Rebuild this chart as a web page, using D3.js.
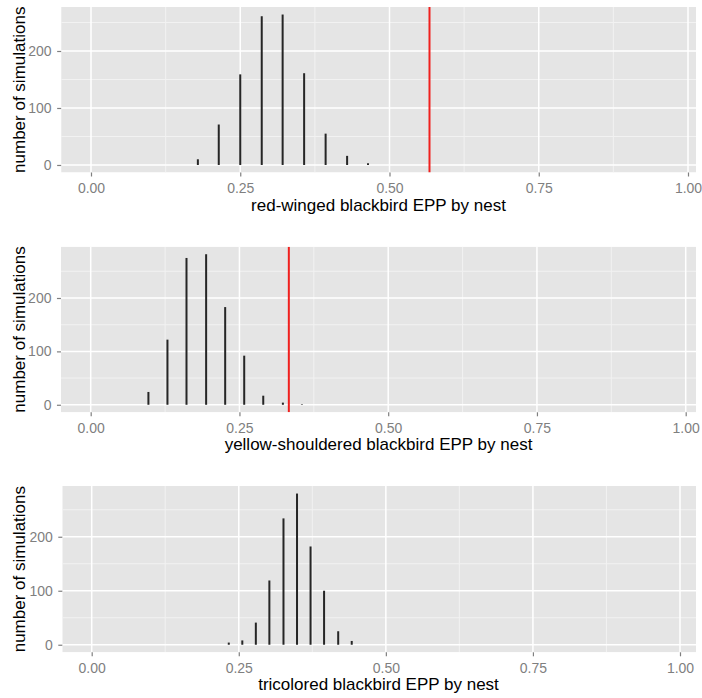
<!DOCTYPE html>
<html>
<head>
<meta charset="utf-8">
<script src="https://cdn.jsdelivr.net/npm/d3@7"></script>
<style>
  body { margin: 0; background: #fff; }
  text { font-family: "Liberation Sans", Arial, sans-serif; }
</style>
</head>
<body>
<div id="EppChart"></div>
<script>
// data: EPP proportion of each bin and number of simulations
var redwingEpp   = [0.179, 0.214, 0.250, 0.286, 0.321, 0.357, 0.393, 0.429, 0.464];
var redwingSims  = [10, 71, 159, 261, 264, 161, 55, 16, 3];
var redwingObs   = 0.567;

var yellowEpp    = [0.097, 0.129, 0.161, 0.194, 0.226, 0.258, 0.290, 0.323, 0.355];
var yellowSims   = [24, 122, 275, 282, 183, 92, 17, 4, 1];
var yellowObs    = 0.333;

var tricolorEpp  = [0.233, 0.256, 0.279, 0.302, 0.326, 0.349, 0.372, 0.395, 0.419, 0.442];
var tricolorSims = [4, 8, 41, 119, 234, 280, 182, 100, 25, 7];

var xTicks = [0, 0.25, 0.5, 0.75, 1];
var xMinor = [0.125, 0.375, 0.625, 0.875];
var yTicks = [0, 100, 200];
var yMinor = [50, 150, 250];

var titles = [
    "red-winged blackbird EPP by nest",
    "yellow-shouldered blackbird EPP by nest",
    "tricolored blackbird EPP by nest"
];

// each panel: where it sits on the page (the right side of the picture is cut off)
var panels = [
    {epp: redwingEpp,  sims: redwingSims,  obs: redwingObs,  title: titles[0], top: 7,     bottom: 172.5, zero: 91,   unit: 597},
    {epp: yellowEpp,   sims: yellowSims,   obs: yellowObs,   title: titles[1], top: 246.7, bottom: 412.3, zero: 90.7, unit: 595},
    {epp: tricolorEpp, sims: tricolorSims, obs: null,        title: titles[2], top: 486,   bottom: 652.3, zero: 91.7, unit: 588.3}
];

var clipRight = 696;

var svg = d3.select("#EppChart")
    .append("svg")
    .attr("width", 702)
    .attr("height", 698);

svg.append("rect")
    .attr("width", 702)
    .attr("height", 698)
    .attr("fill", "#fff");

panels.forEach(function(p, i) {
    // x scale with ggplot's 5% expansion around 0..1
    var x = d3.scaleLinear()
        .domain([-0.05, 1.05])
        .range([p.zero - 0.05 * p.unit, p.zero + 1.05 * p.unit]);

    var maxSims = d3.max(p.sims);
    var y = d3.scaleLinear()
        .domain([-0.05 * maxSims, 1.05 * maxSims])
        .range([p.bottom, p.top]);

    var left = x(-0.05),
        right = Math.min(x(1.05), clipRight);

    var g = svg.append("g");

    g.append("clipPath")
        .attr("id", "clip" + i)
        .append("rect")
        .attr("x", left)
        .attr("y", p.top)
        .attr("width", right - left)
        .attr("height", p.bottom - p.top);

    var plot = g.append("g").attr("clip-path", "url(#clip" + i + ")");

    // grey panel
    plot.append("rect")
        .attr("x", left)
        .attr("y", p.top)
        .attr("width", right - left)
        .attr("height", p.bottom - p.top)
        .attr("fill", "#E5E5E5");

    // minor grid
    plot.selectAll(".xminor")
        .data(xMinor)
        .enter()
        .append("line")
        .attr("x1", function(d) { return x(d); })
        .attr("x2", function(d) { return x(d); })
        .attr("y1", p.top)
        .attr("y2", p.bottom)
        .attr("stroke", "#F2F2F2")
        .attr("stroke-width", 1);
    plot.selectAll(".yminor")
        .data(yMinor.filter(function(d) { return d < y.domain()[1]; }))
        .enter()
        .append("line")
        .attr("x1", left)
        .attr("x2", right)
        .attr("y1", function(d) { return y(d); })
        .attr("y2", function(d) { return y(d); })
        .attr("stroke", "#F2F2F2")
        .attr("stroke-width", 1);

    // major grid
    plot.selectAll(".xmajor")
        .data(xTicks)
        .enter()
        .append("line")
        .attr("x1", function(d) { return x(d); })
        .attr("x2", function(d) { return x(d); })
        .attr("y1", p.top)
        .attr("y2", p.bottom)
        .attr("stroke", "#fff")
        .attr("stroke-width", 1.5);
    plot.selectAll(".ymajor")
        .data(yTicks)
        .enter()
        .append("line")
        .attr("x1", left)
        .attr("x2", right)
        .attr("y1", function(d) { return y(d); })
        .attr("y2", function(d) { return y(d); })
        .attr("stroke", "#fff")
        .attr("stroke-width", 1.5);

    // histogram bars (very thin bins)
    var bins = p.epp.map(function(e, k) { return {epp: e, sims: p.sims[k]}; });
    plot.selectAll(".bar")
        .data(bins)
        .enter()
        .append("rect")
        .attr("x", function(d) { return x(d.epp) - 1; })
        .attr("width", 2)
        .attr("y", function(d) { return y(d.sims); })
        .attr("height", function(d) { return y(0) - y(d.sims); })
        .attr("fill", "#262626");

    // observed value
    if (p.obs !== null) {
        plot.append("line")
            .attr("x1", x(p.obs))
            .attr("x2", x(p.obs))
            .attr("y1", p.top)
            .attr("y2", p.bottom)
            .attr("stroke", "#F0201E")
            .attr("stroke-width", 2);
    }

    // axes
    var xAxis = g.append("g")
        .attr("transform", "translate(0," + p.bottom + ")")
        .call(d3.axisBottom(x).tickValues(xTicks).tickFormat(d3.format(".2f")).tickSize(4).tickPadding(7));
    var yAxis = g.append("g")
        .attr("transform", "translate(" + left + ",0)")
        .call(d3.axisLeft(y).tickValues(yTicks).tickSize(4).tickPadding(5.5));

    [xAxis, yAxis].forEach(function(a) {
        a.select(".domain").remove();
        a.selectAll("line").attr("stroke", "#7F7F7F").attr("stroke-width", 1.2);
        a.selectAll("text")
            .attr("fill", "#7F7F7F")
            .style("font-size", "14px");
    });

    // axis titles
    g.append("text")
        .attr("x", 378.5)
        .attr("y", p.bottom + 38)
        .attr("text-anchor", "middle")
        .style("font-size", "17px")
        .attr("fill", "#000")
        .text(p.title);
    g.append("text")
        .attr("transform", "translate(25," + ((p.top + p.bottom) / 2) + ") rotate(-90)")
        .attr("text-anchor", "middle")
        .style("font-size", "17px")
        .attr("fill", "#000")
        .text("number of simulations");
});
</script>
</body>
</html>
